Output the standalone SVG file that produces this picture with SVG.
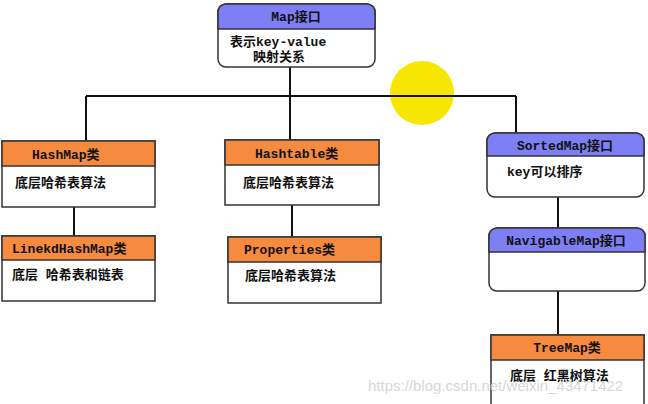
<svg xmlns="http://www.w3.org/2000/svg" width="648" height="404" viewBox="0 0 648 404">
<style>
.box{fill:#fff;stroke:#333;stroke-width:1.5}
.bh{fill:#7f7ff5;stroke:#333;stroke-width:1.5}
.oh{fill:#f68b3f;stroke:#333;stroke-width:1.5}
.t{font-family:"Liberation Mono","Noto Sans CJK SC",monospace;font-weight:bold;font-size:13px;fill:#111}
.c{stroke:#111;stroke-width:2;fill:none}
</style>
<rect width="648" height="404" fill="#fff"/>
<circle cx="422" cy="93" r="32" fill="#f7e600"/>
<g id="connectors">
<path class="c" d="M290 67V96M86 96H516M86 96V141M290 96V140M516 96V133M74 207V236M292 205V237M558 197V228M558 291V335"/>
</g>
<g id="map">
<rect class="box" x="218" y="4" width="157" height="63" rx="8"/>
<path class="bh" d="M218 29V12a8 8 0 0 1 8-8h141a8 8 0 0 1 8 8v17z"/>
<text class="t" x="296" y="21" text-anchor="middle">Map接口</text>
<text class="t" x="230" y="46">表示key-value</text>
<text class="t" x="253" y="61">映射关系</text>
</g>
<g id="hashmap">
<rect class="box" x="2" y="141" width="153" height="66"/>
<rect class="oh" x="2" y="141" width="153" height="25"/>
<text class="t" x="32" y="159">HashMap类</text>
<text class="t" x="15" y="187">底层哈希表算法</text>
</g>
<g id="linkedhashmap">
<rect class="box" x="2" y="236" width="153" height="65"/>
<rect class="oh" x="2" y="236" width="153" height="24"/>
<text class="t" x="12" y="253">LinekdHashMap类</text>
<text class="t" x="12" y="279">底层 哈希表和链表</text>
</g>
<g id="hashtable">
<rect class="box" x="225" y="140" width="154" height="65"/>
<rect class="oh" x="225" y="140" width="154" height="25"/>
<text class="t" x="255" y="158">Hashtable类</text>
<text class="t" x="243" y="187">底层哈希表算法</text>
</g>
<g id="properties">
<rect class="box" x="228" y="237" width="153" height="66"/>
<rect class="oh" x="228" y="237" width="153" height="25"/>
<text class="t" x="244" y="254">Properties类</text>
<text class="t" x="245" y="280">底层哈希表算法</text>
</g>
<g id="sortedmap">
<rect class="box" x="487" y="133" width="157" height="64" rx="8"/>
<path class="bh" d="M487 156V141a8 8 0 0 1 8-8h141a8 8 0 0 1 8 8v15z"/>
<text class="t" x="565" y="150" text-anchor="middle">SortedMap接口</text>
<text class="t" x="507" y="176">key可以排序</text>
</g>
<g id="navigablemap">
<rect class="box" x="489" y="228" width="156" height="63" rx="8"/>
<path class="bh" d="M489 252V236a8 8 0 0 1 8-8h140a8 8 0 0 1 8 8v16z"/>
<text class="t" x="566" y="245" text-anchor="middle">NavigableMap接口</text>
</g>
<g id="treemap">
<rect class="box" x="491" y="335" width="153" height="70"/>
<rect class="oh" x="491" y="335" width="153" height="25"/>
<text class="t" x="567" y="352" text-anchor="middle">TreeMap类</text>
<text class="t" x="510" y="380">底层 红黑树算法</text>
</g>
<text x="368" y="391" font-family="Liberation Sans,sans-serif" font-size="15" fill="#ccc" fill-opacity="0.8">https://blog.csdn.net/weixin_43471422</text>
</svg>
